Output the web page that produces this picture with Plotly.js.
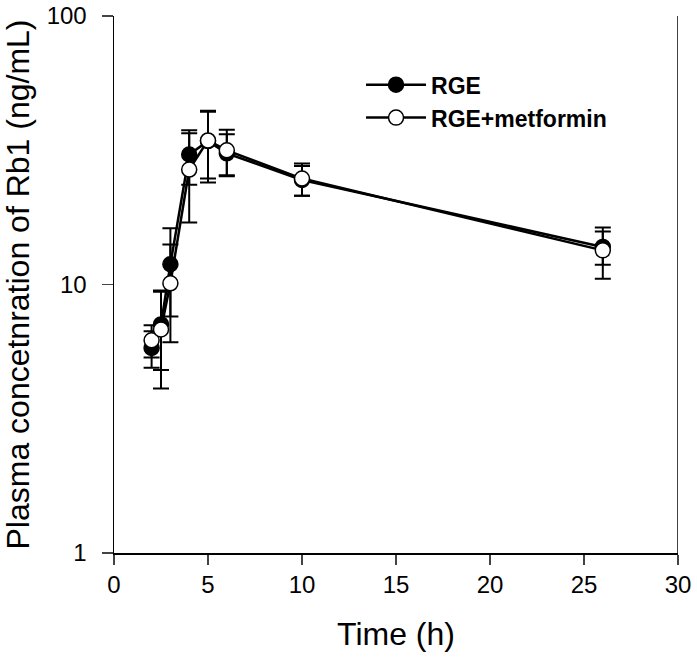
<!DOCTYPE html>
<html>
<head>
<meta charset="utf-8">
<script src="https://cdn.plot.ly/plotly-3.0.1.min.js"></script>
<style>html,body{margin:0;padding:0;background:#fff;}#chart{width:697px;height:659px;}</style>
</head>
<body>
<div id="chart"></div>
<script>
// Data
var timeH = [2, 2.5, 3, 4, 5, 6, 10, 26];
var rgeMean = [5.8, 7.1, 11.9, 30.5, 34.2, 30.8, 24.5, 13.8];
var rgeSD = [0.9, 2.3, 4.3, 7.0, 10.2, 5.5, 3.1, 1.95];
var rgeMetMean = [6.2, 6.8, 10.1, 26.8, 34.4, 31.6, 24.8, 13.4];
var rgeMetSD = [0.85, 2.7, 4.0, 9.8, 9.6, 6.1, 3.4, 2.9];
var seriesNames = ['RGE', 'RGE+metformin'];
var yTickVals = [1, 10, 100];
var yTickText = ['1', '10', '100'];
var xTickVals = [0, 5, 10, 15, 20, 25, 30];

var font = 'Arial, "Liberation Sans", sans-serif';

function errBar(sd) {
  return {type: 'data', array: sd, arrayminus: sd, symmetric: false,
          color: '#000', thickness: 2, width: 8, visible: true};
}

var traces = [
  {x: timeH, y: rgeMean, name: seriesNames[0], type: 'scatter', mode: 'lines+markers',
   line: {color: '#000', width: 2.5},
   marker: {symbol: 'circle', size: 15, color: '#000', line: {color: '#000', width: 1.5}},
   error_y: errBar(rgeSD)},
  {x: timeH, y: rgeMetMean, name: seriesNames[1], type: 'scatter', mode: 'lines+markers',
   line: {color: '#000', width: 2.5},
   marker: {symbol: 'circle', size: 15, color: '#fff', line: {color: '#000', width: 1.5}},
   error_y: errBar(rgeMetSD)}
];

var layout = {
  width: 697, height: 659,
  margin: {l: 114, r: 19, t: 16, b: 106},
  paper_bgcolor: '#fff', plot_bgcolor: '#fff',
  font: {family: font, color: '#000', size: 24},
  showlegend: true,
  legend: {x: 0.438, xanchor: 'left', y: 0.912, yanchor: 'top',
           font: {family: font, size: 23, color: '#000', weight: 'bold'},
           bgcolor: 'rgba(0,0,0,0)', itemwidth: 60, tracegroupgap: 0},
  xaxis: {
    range: [0, 30], tickvals: xTickVals, ticks: 'outside', ticklen: 10, tickwidth: 1.5,
    showline: true, linewidth: 1.5, linecolor: '#000', showgrid: false, zeroline: false,
    tickfont: {size: 24, family: font},
    title: {text: 'Time (h)', font: {size: 32, family: font}, standoff: 25}
  },
  yaxis: {
    type: 'log', range: [0, 2], tickvals: yTickVals, ticktext: yTickText,
    ticks: 'outside', ticklen: 11, tickwidth: 1.5, ticklabelstandoff: 10,
    showline: true, linewidth: 1.5, linecolor: '#000', showgrid: false, zeroline: false,
    tickfont: {size: 24, family: font},
    title: {text: 'Plasma concetnration of Rb1 (ng/mL)', font: {size: 32, family: font}, standoff: 11}
  },
  shapes: [{type: 'line', xref: 'x', yref: 'paper', x0: 30, x1: 30, y0: 0, y1: 1,
            line: {color: '#000', width: 1.5}}]
};

Plotly.newPlot('chart', traces, layout, {displayModeBar: false, staticPlot: true});
</script>
</body>
</html>
